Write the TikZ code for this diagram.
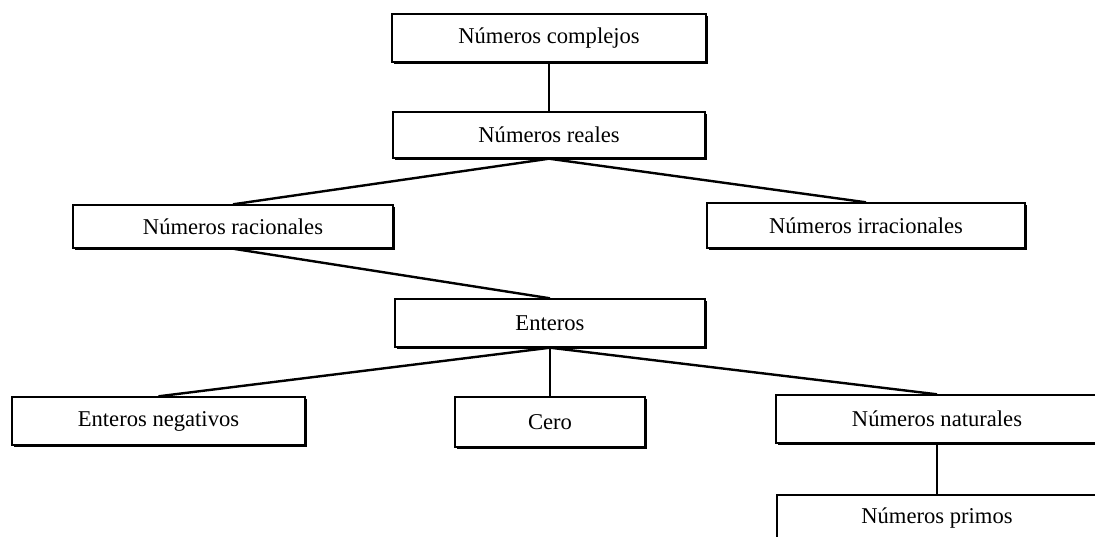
\documentclass[tikz,border=0pt]{standalone}
\usepackage{fontspec}
\setmainfont{Liberation Serif}
\usetikzlibrary{shadows}

\begin{document}
\begin{tikzpicture}[
    x=0.5pt, y=-0.5pt,
    every node/.style={font=\fontsize{11.3}{13}\selectfont},
    numbox/.style={
        draw=black,
        line width=0.7pt,
        fill=white,
        inner sep=0pt,
        minimum height=24pt,
        drop shadow={shadow xshift=0.8pt, shadow yshift=-0.8pt, fill=black, opacity=1}
    },
    link/.style={line width=1.2pt}
]
\useasboundingbox (0,0) rectangle (1095,536);
\clip (0,0) rectangle (1095,536);

% ---------- top of the tree ----------
\node[numbox, minimum width=157pt] (complejos) at (549,38) {Números complejos};
\node[numbox, minimum width=156pt, minimum height=23pt] (reales) at (549,135) {Números reales};

% ---------- reales split ----------
\node[numbox, minimum width=160pt, minimum height=21.5pt] (racionales) at (233,226.5) {Números racionales};
\node[numbox, minimum width=159pt, minimum height=22.5pt] (irracionales) at (866,225.5) {Números irracionales};

% ---------- enteros and below ----------
\node[numbox, minimum width=155pt] (enteros) at (550,323) {Enteros};
\node[numbox, minimum width=146.5pt] (negativos) at (158.5,421) {Enteros negativos};
\node[numbox, minimum width=95pt, minimum height=25pt] (cero) at (550,422) {Cero};
\node[numbox, minimum width=161pt] (naturales) at (937,419) {Números naturales};
\node[numbox, minimum width=160pt, minimum height=23pt] (primos) at (937,518) {Números primos};

% ---------- connectors ----------
\draw[link] (complejos.south) -- (reales.north);
\draw[link] (reales.south) -- (racionales.north);
\draw[link] (reales.south) -- (irracionales.north);
\draw[link] (racionales.south) -- (enteros.north);
\foreach \kid in {negativos,cero,naturales}{
    \draw[link] (enteros.south) -- (\kid.north);
}
\draw[link] (naturales.south) -- (primos.north);

\end{tikzpicture}
\end{document}
